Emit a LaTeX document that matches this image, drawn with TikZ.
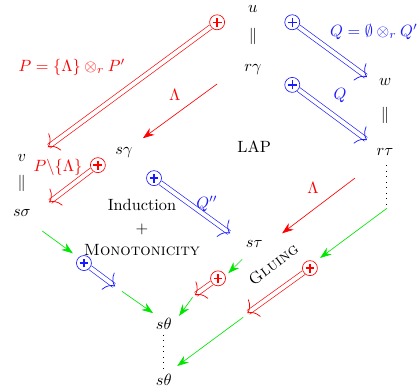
\documentclass[tikz,border=0pt]{standalone}
\usetikzlibrary{arrows.meta,decorations.markings}
\definecolor{lapred}{HTML}{FF0000}
\definecolor{lapblue}{HTML}{1A1AFF}
\definecolor{lapgreen}{HTML}{00E600}

\begin{document}
\begin{tikzpicture}[
  oplus/.style={circle, draw=#1, minimum size=9.2pt, inner sep=0pt,
    path picture={\draw[#1, line width=0.9pt]
      ([xshift=-2.7pt]path picture bounding box.center) -- ([xshift=2.7pt]path picture bounding box.center)
      ([yshift=-2.7pt]path picture bounding box.center) -- ([yshift=2.7pt]path picture bounding box.center);}},
  dbl/.style={draw=#1, double, double distance=2.4pt, shorten >=0.8pt,
    postaction={decorate, decoration={markings, mark=at position 1 with
      {\arrow[#1, line width=0.45pt]{Computer Modern Rightarrow[length=5.5pt, width=13pt]}}}}},
  sgl/.style={draw=#1, -{Stealth[length=7pt, width=5pt]}},
  lbl/.style={text=#1},
]
\useasboundingbox (0,0) rectangle (9.01,8.41);
% terms
\node (u) at (5.45,8.21) {$u$};
\node (equ) at (5.45,7.63) {$\|$};
\node (rgamma) at (5.45,6.90) {$r\gamma$};
\node (w) at (8.30,6.64) {$w$};
\node (eqw) at (8.30,5.93) {$\|$};
\node (rtau) at (8.30,5.13) {$r\tau$};
\node (v) at (0.47,5.00) {$v$};
\node (eqv) at (0.47,4.46) {$\|$};
\node (ssigma) at (0.47,3.82) {$s\sigma$};
\node (sgamma) at (2.67,5.13) {$s\gamma$};
\node (stau) at (5.48,3.15) {$s\tau$};
\node (stheta) at (3.53,1.44) {$s\theta$};
\node (sthetab) at (3.53,0.22) {$s\theta$};
\node (lap) at (5.48,5.24) {LAP};
\node[align=center] (ind) at (3.06,3.50) {Induction\\[1.8pt]$+$\\[1.8pt]\textsc{Monotonicity}};
\node[rotate=37, inner sep=1pt] (glue) at (5.89,2.71) {\textsc{Gluing}};
% plus circles
\node[oplus=lapred] (pa) at (4.68,7.93) {};
\node[oplus=lapred] (pb) at (2.11,4.85) {};
\node[oplus=lapred] (pc) at (4.70,2.41) {};
\node[oplus=lapred] (pd) at (6.68,2.63) {};
\node[oplus=lapblue] (qa) at (6.30,7.93) {};
\node[oplus=lapblue] (qb) at (6.30,6.58) {};
\node[oplus=lapblue] (qc) at (3.32,4.57) {};
\node[oplus=lapblue] (qd) at (1.81,2.74) {};
% arrow ends
\coordinate (pae) at (1.03,5.24);
\coordinate (pbe) at (1.06,4.05);
\coordinate (pce) at (4.20,2.05);
\coordinate (pde) at (5.33,1.66);
\coordinate (qae) at (7.91,6.75);
\coordinate (qbe) at (7.91,5.39);
\coordinate (qce) at (4.96,3.38);
\coordinate (qde) at (2.48,2.24);
% double arrows
\draw[dbl=lapred] (pa) -- (pae);
\draw[dbl=lapred] (pb) -- (pbe);
\draw[dbl=lapred] (pc) -- (pce);
\draw[dbl=lapred] (pd) -- (pde);
\draw[dbl=lapblue] (qa) -- (qae);
\draw[dbl=lapblue] (qb) -- (qbe);
\draw[dbl=lapblue] (qc) -- (qce);
\draw[dbl=lapblue] (qd) -- (qde);
% single arrows
\coordinate (la) at (4.68,6.60); \coordinate (lae) at (3.08,5.43);
\coordinate (lb) at (7.65,4.57); \coordinate (lbe) at (6.08,3.38);
\draw[sgl=lapred] (la) -- (lae);
\draw[sgl=lapred] (lb) -- (lbe);
\coordinate (ga) at (0.91,3.43); \coordinate (gae) at (1.57,2.95);
\coordinate (gb) at (2.63,2.13); \coordinate (gbe) at (3.30,1.66);
\coordinate (gc) at (5.22,2.82); \coordinate (gce) at (4.92,2.52);
\coordinate (gd) at (4.15,2.00); \coordinate (gde) at (3.86,1.60);
\coordinate (gf) at (5.24,1.57); \coordinate (gfe) at (3.82,0.52);
\coordinate (dotend) at (8.34,3.92); \coordinate (gee) at (6.90,2.85);
\draw[sgl=lapgreen] (ga) -- (gae);
\draw[sgl=lapgreen] (gb) -- (gbe);
\draw[sgl=lapgreen] (gc) -- (gce);
\draw[sgl=lapgreen] (gd) -- (gde);
\draw[sgl=lapgreen] (dotend) -- (gee);
\draw[sgl=lapgreen] (gf) -- (gfe);
% dots
\coordinate (dotstart) at (8.34,4.85);
\draw[line width=0.6pt, dash pattern=on 0.6pt off 2.8pt] (dotstart) -- (dotend);
\draw[line width=0.6pt, dash pattern=on 0.6pt off 2.8pt] (stheta) -- (sthetab);
% labels
\node[lbl=lapred] at (1.55,6.96) {$P=\{\Lambda\}\otimes_r P'$};
\node[lbl=lapred] at (3.77,6.36) {$\Lambda$};
\node[lbl=lapred] at (1.25,4.81) {$P\backslash\{\Lambda\}$};
\node[lbl=lapred] at (6.75,4.36) {$\Lambda$};
\node[lbl=lapblue] at (8.06,7.72) {$Q=\emptyset\otimes_r Q'$};
\node[lbl=lapblue] at (7.33,6.36) {$Q$};
\node[lbl=lapblue] at (4.46,4.01) {$Q''$};
\end{tikzpicture}
\end{document}
